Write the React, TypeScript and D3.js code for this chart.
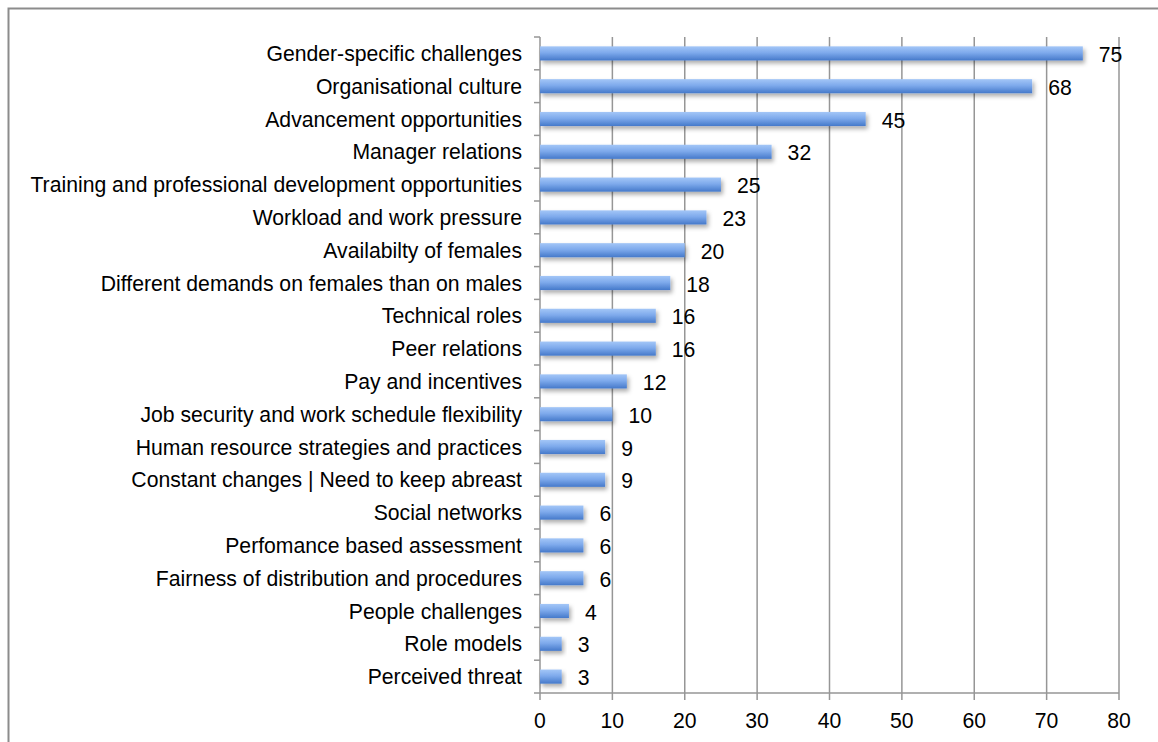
import React from "react";
import * as d3 from "d3";

const categories = [
  "Gender-specific challenges",
  "Organisational culture",
  "Advancement opportunities",
  "Manager relations",
  "Training and professional development opportunities",
  "Workload and work pressure",
  "Availabilty of females",
  "Different demands on females than on males",
  "Technical roles",
  "Peer relations",
  "Pay and incentives",
  "Job security and work schedule flexibility",
  "Human resource strategies and practices",
  "Constant changes | Need to keep abreast",
  "Social networks",
  "Perfomance based assessment",
  "Fairness of distribution and procedures",
  "People challenges",
  "Role models",
  "Perceived threat",
];
const values = [75, 68, 45, 32, 25, 23, 20, 18, 16, 16, 12, 10, 9, 9, 6, 6, 6, 4, 3, 3];
const xTicks = [0, 10, 20, 30, 40, 50, 60, 70, 80];

const W = 1158;
const H = 742;
const left = 540;
const right = 1119;
const top = 37;
const bottom = 693;

export default function App() {
  const x = d3.scaleLinear().domain([0, 80]).range([left, right]);
  const y = d3.scaleBand<string>().domain(categories).range([top, bottom]).paddingInner(0.57).paddingOuter(0.285);
  const band = (bottom - top) / categories.length;
  const font = "Liberation Sans, Arial, sans-serif";
  const fs = 21.2;
  const grid = "#969696";
  return (
    <svg width={W} height={H} style={{ position: "absolute", left: 0, top: 0, display: "block" }}>
      <defs>
        <linearGradient id="barGrad" x1="0" y1="0" x2="0" y2="1">
          <stop offset="0" stopColor="#a3c6f7" />
          <stop offset="0.45" stopColor="#7eaaec" />
          <stop offset="1" stopColor="#4579ca" />
        </linearGradient>
        <filter id="shadow" x="-10%" y="-50%" width="130%" height="250%">
          <feDropShadow dx="2" dy="3" stdDeviation="2" floodColor="#000" floodOpacity="0.32" />
        </filter>
      </defs>
      <rect x={0} y={0} width={W} height={H} fill="#fff" />
      <path d={`M8.5,${H} V8.5 H${W}`} fill="none" stroke="#8c8c8c" strokeWidth={2} />
      {xTicks.map((t) => (
        <line key={"g" + t} x1={x(t)} x2={x(t)} y1={top} y2={bottom + 7} stroke={grid} strokeWidth={1.5} />
      ))}
      <line x1={left} x2={right} y1={bottom} y2={bottom} stroke={grid} strokeWidth={1.5} />
      {d3.range(categories.length + 1).map((i) => (
        <line key={"yt" + i} x1={left - 6} x2={left} y1={top + i * band} y2={top + i * band} stroke={grid} strokeWidth={1.5} />
      ))}
      {categories.map((c, i) => (
        <g key={c}>
          <rect
            x={x(0)}
            y={y(c)}
            width={x(values[i]) - x(0)}
            height={y.bandwidth()}
            fill="url(#barGrad)"
            filter="url(#shadow)"
          />
          <text
            x={left - 18}
            y={(y(c) as number) + y.bandwidth() / 2}
            textAnchor="end"
            dominantBaseline="central"
            fontFamily={font}
            fontSize={fs}
            fill="#000"
          >
            {c}
          </text>
          <text
            x={x(values[i]) + 16}
            y={(y(c) as number) + y.bandwidth() / 2 + 1}
            dominantBaseline="central"
            fontFamily={font}
            fontSize={fs}
            fill="#000"
          >
            {values[i]}
          </text>
        </g>
      ))}
      {xTicks.map((t) => (
        <text key={"xl" + t} x={x(t)} y={720} textAnchor="middle" dominantBaseline="central" fontFamily={font} fontSize={fs} fill="#000">
          {t}
        </text>
      ))}
    </svg>
  );
}
